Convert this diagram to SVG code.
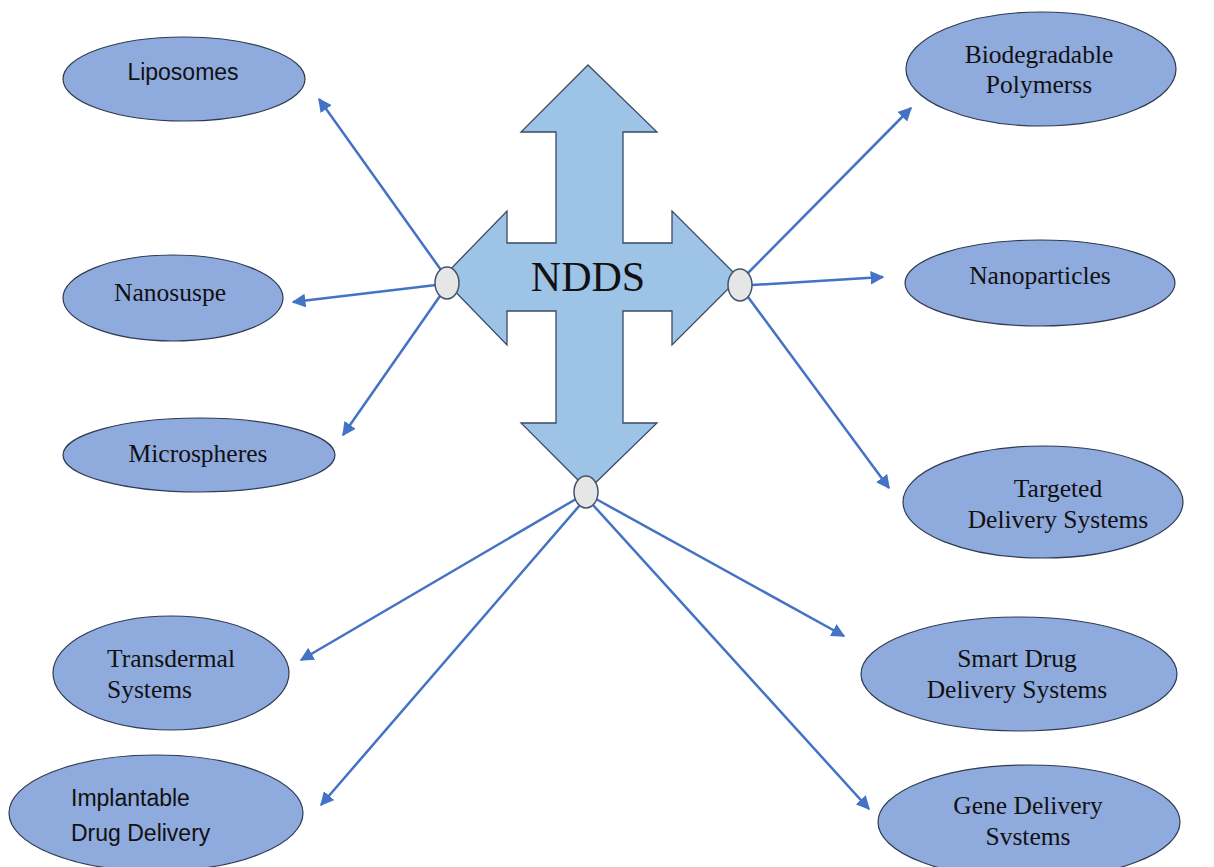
<svg xmlns="http://www.w3.org/2000/svg" width="1214" height="867" viewBox="0 0 1214 867">
<style>
.node{fill:#8FAADC;stroke:#2F3B52;stroke-width:1.2}
.serif{font-family:"Liberation Serif","Times New Roman",serif;font-size:25.5px;fill:#111}
.sans{font-family:"Liberation Sans",Arial,sans-serif;font-size:23px;fill:#111}
.conn{stroke:#4472C4;stroke-width:2.5;fill:none;marker-end:url(#ah)}
.hub{fill:#E6E6E6;stroke:#44546A;stroke-width:1.5}
</style>
<defs>
<marker id="ah" viewBox="0 0 10 10" refX="9" refY="5" markerWidth="5.5" markerHeight="5.5" orient="auto" markerUnits="strokeWidth">
<path d="M0,0 L10,5 L0,10 z" fill="#4472C4"/>
</marker>
</defs>
<rect width="1214" height="867" fill="#fff"/>
<g id="cross">
<path d="M588,65 L657,132 L623,132 L623,243 L672,243 L672,211 L739,278 L672,345 L672,311 L623,311 L623,423 L657,423 L588,490 L521,423 L556,423 L556,311 L507,311 L507,345 L442,278 L507,211 L507,243 L556,243 L556,132 L521,132 Z" fill="#9DC3E6" stroke="#3B4A63" stroke-width="1.3"/>
<text x="588" y="291" text-anchor="middle" font-family="Liberation Serif, Times New Roman, serif" font-size="42" fill="#111">NDDS</text>
</g>
<g id="connectors">
<line class="conn" x1="441" y1="270" x2="319" y2="99"/>
<line class="conn" x1="436" y1="285" x2="293" y2="302"/>
<line class="conn" x1="440" y1="296" x2="343" y2="435"/>
<line class="conn" x1="748" y1="273" x2="911" y2="108"/>
<line class="conn" x1="752" y1="285" x2="883" y2="277"/>
<line class="conn" x1="748" y1="297" x2="889" y2="488"/>
<line class="conn" x1="576" y1="499" x2="301" y2="660"/>
<line class="conn" x1="580" y1="505" x2="321" y2="805"/>
<line class="conn" x1="596" y1="499" x2="844" y2="636"/>
<line class="conn" x1="593" y1="505" x2="869" y2="809"/>
</g>
<g id="hubs">
<ellipse class="hub" cx="447" cy="283" rx="12" ry="16"/>
<ellipse class="hub" cx="740" cy="285" rx="12" ry="16"/>
<ellipse class="hub" cx="586" cy="492" rx="12" ry="16"/>
</g>
<g id="n-liposomes">
<ellipse class="node" cx="184" cy="79" rx="121" ry="42"/>
<text class="sans" x="183" y="80" text-anchor="middle">Liposomes</text>
</g>
<g id="n-nanosuspe">
<ellipse class="node" cx="173" cy="298" rx="110" ry="43"/>
<text class="serif" x="170" y="301" text-anchor="middle">Nanosuspe</text>
</g>
<g id="n-microspheres">
<ellipse class="node" cx="199" cy="455" rx="136" ry="37"/>
<text class="serif" x="198" y="462" text-anchor="middle">Microspheres</text>
</g>
<g id="n-biodegradable">
<ellipse class="node" cx="1041" cy="69" rx="135" ry="57"/>
<text class="serif" x="1039" y="63" text-anchor="middle">Biodegradable</text>
<text class="serif" x="1039" y="93" text-anchor="middle">Polymerss</text>
</g>
<g id="n-nanoparticles">
<ellipse class="node" cx="1040" cy="283" rx="135" ry="43"/>
<text class="serif" x="1040" y="284" text-anchor="middle">Nanoparticles</text>
</g>
<g id="n-targeted">
<ellipse class="node" cx="1043" cy="502" rx="140" ry="56"/>
<text class="serif" x="1058" y="497" text-anchor="middle">Targeted</text>
<text class="serif" x="1058" y="528" text-anchor="middle">Delivery Systems</text>
</g>
<g id="n-transdermal">
<ellipse class="node" cx="171" cy="673" rx="118" ry="57"/>
<text class="serif" x="107" y="667">Transdermal</text>
<text class="serif" x="107" y="698">Systems</text>
</g>
<g id="n-implantable">
<ellipse class="node" cx="156" cy="813" rx="147" ry="58"/>
<text class="sans" x="71" y="806">Implantable</text>
<text class="sans" x="71" y="841">Drug Delivery</text>
</g>
<g id="n-smart">
<ellipse class="node" cx="1019" cy="674" rx="158" ry="57"/>
<text class="serif" x="1017" y="667" text-anchor="middle">Smart Drug</text>
<text class="serif" x="1017" y="698" text-anchor="middle">Delivery Systems</text>
</g>
<g id="n-gene">
<ellipse class="node" cx="1029" cy="822" rx="151" ry="57"/>
<text class="serif" x="1028" y="814" text-anchor="middle">Gene Delivery</text>
<text class="serif" x="1028" y="845" text-anchor="middle">Svstems</text>
</g>
</svg>
